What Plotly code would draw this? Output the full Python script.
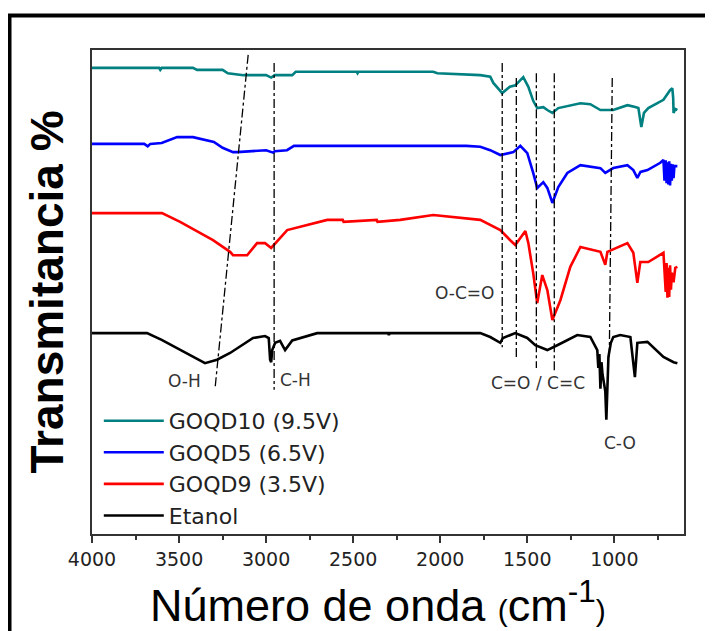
import plotly.graph_objects as go

# ---------------- data ----------------
series_names = ["GOQD10 (9.5V)", "GOQD5 (6.5V)", "GOQD9 (3.5V)", "Etanol"]
series_colors = ["#008080", "#0000FF", "#FF0000", "#000000"]

wn_goqd10 = [4000, 3700, 3615, 3608, 3600, 3420, 3397, 3250, 3220, 3130, 3000, 2971, 2950, 2850, 2830,
             2480, 2475, 2470, 2040, 2017, 1770, 1713, 1695, 1644, 1600, 1569, 1523, 1494, 1466, 1443,
             1408, 1385, 1356, 1322, 1270, 1195, 1138, 1080, 1006, 925, 880, 862, 845, 830, 805, 776,
             718, 680, 667, 662, 660, 650, 638]
t_goqd10 = [96.3, 96.3, 96.3, 95.9, 96.3, 96.3, 95.9, 95.9, 95.2, 94.8, 94.8, 94.3, 94.8, 94.8, 95.5,
            95.5, 95.2, 95.5, 95.5, 95.2, 94.8, 94.5, 93.2, 91.1, 92.4, 92.7, 94.4, 92.4, 89.5, 88.0,
            88.2, 87.6, 87.0, 88.0, 88.4, 89.0, 88.8, 87.6, 87.6, 88.6, 88.2, 88.0, 84.1, 87.0, 88.0, 88.6,
            89.7, 91.7, 92.1, 90.0, 87.0, 87.8, 87.6]

wn_goqd5 = [4000, 3700, 3680, 3665, 3600, 3511, 3420, 3300, 3250, 3190, 3167, 3000, 2960, 2950, 2880,
            2840, 2500, 1850, 1770, 1713, 1655, 1580, 1540, 1500, 1466, 1443, 1408, 1385, 1356, 1322,
            1270, 1195, 1080, 1052, 1006, 925, 891, 868, 850, 810, 736, 718, 712, 705, 700, 695, 690,
            685, 680, 675, 670, 665, 660, 655, 638]
t_goqd5 = [80.6, 80.6, 80.1, 80.6, 80.8, 82.0, 82.0, 81.0, 79.8, 78.9, 78.9, 79.3, 78.8, 79.1, 79.3,
           80.2, 80.2, 80.2, 80.0, 79.3, 78.3, 78.9, 80.2, 78.7, 74.6, 71.5, 72.7, 71.5, 68.4, 71.7,
           74.6, 76.2, 75.6, 74.6, 75.6, 76.2, 75.2, 73.6, 74.8, 75.2, 76.7, 77.3, 73.0, 77.2, 72.5, 76.8, 72.2,
           77.0, 72.0, 76.5, 73.0, 76.4, 73.5, 76.0, 76.0]

wn_goqd9 = [4000, 3598, 3494, 3305, 3207, 3190, 3109, 3052, 3006, 2971, 2879, 2649, 2560, 2555, 2365,
            2360, 2230, 2040, 1770, 1655, 1598, 1569, 1511, 1494, 1466, 1443, 1414, 1385, 1356, 1310,
            1253, 1195, 1080, 1052, 1040, 925, 891, 868, 851, 805, 718, 705, 700, 695, 690, 685, 680,
            675, 670, 660, 650, 638]
t_goqd9 = [66.3, 66.3, 64.5, 60.7, 58.3, 57.6, 57.6, 60.1, 60.1, 59.1, 62.8, 64.9, 64.9, 64.5, 64.9,
           64.5, 64.9, 65.9, 64.9, 62.8, 60.7, 59.7, 62.6, 60.1, 53.9, 47.7, 53.5, 50.4, 44.2, 48.3,
           55.2, 59.3, 58.3, 55.6, 58.3, 60.1, 58.1, 51.9, 56.2, 56.2, 58.1, 50.0, 56.0, 48.8, 55.0, 49.0, 55.5,
           50.5, 54.0, 52.0, 55.0, 55.2]

wn_etanol = [4000, 3684, 3600, 3494, 3351, 3282, 3207, 3075, 3006, 2985, 2977, 2971, 2965, 2948, 2920,
             2891, 2850, 2707, 2300, 2295, 2290, 1770, 1713, 1655, 1640, 1569, 1500, 1454, 1385, 1328,
             1270, 1213, 1138, 1098, 1092, 1086, 1080, 1074, 1068, 1060, 1052, 1046, 1040, 1034, 1020,
             1006, 966, 908, 882, 878, 868, 810, 718, 660, 638]
t_etanol = [41.5, 41.5, 40.1, 38.0, 35.3, 36.0, 37.4, 40.5, 40.9, 40.5, 36.0, 35.5, 38.0, 39.5, 39.9,
            38.0, 40.0, 41.5, 41.5, 41.1, 41.5, 41.5, 40.7, 39.5, 40.5, 41.5, 40.5, 39.0, 38.0, 39.0,
            40.1, 41.1, 40.7, 38.0, 34.3, 37.2, 30.0, 35.5, 33.0, 31.4, 29.5, 23.6, 29.5, 36.6, 39.5,
            40.7, 41.1, 40.7, 32.4, 34.0, 39.5, 39.7, 36.6, 35.5, 35.3]

# band marker lines (wavenumber at top / bottom, level at top / bottom)
band_wn_top = [3103, 2954, 1644, 1563, 1448, 1345, 1012]
band_wn_bot = [3293, 2954, 1644, 1563, 1448, 1345, 1029]
band_t_top = [99.0, 97.3, 97.3, 94.2, 95.2, 95.2, 94.2]
band_t_bot = [30.2, 29.8, 38.6, 36.4, 34.3, 33.5, 36.6]

band_labels = ["O-H", "C-H", "O-C=O", "C=O / C=C", "C-O"]
label_wn = [3466, 2833, 1862, 1437, 966]
label_t = [31.6, 31.8, 49.8, 31.2, 18.8]

tick_vals = [4000, 3500, 3000, 2500, 2000, 1500, 1000]
tick_text = ["4000", "3500", "3000", "2500", "2000", "1500", "1000"]
minor_vals = [3750, 3250, 2750, 2250, 1750, 1250, 750]

x_title = "Número de onda <span style='font-size:30px'>(</span>cm<sup>-1</sup><span style='font-size:30px'>)</span>"
y_title = "<b>Transmitancia %</b>"

# ---------------- figure ----------------
fig = go.Figure()
xs = [wn_goqd10, wn_goqd5, wn_goqd9, wn_etanol]
ys = [t_goqd10, t_goqd5, t_goqd9, t_etanol]
for i in range(4):
    fig.add_trace(go.Scatter(x=xs[i], y=ys[i], mode="lines", name=series_names[i],
                             line=dict(color=series_colors[i], width=2.6)))

for i in range(len(band_wn_top)):
    fig.add_shape(type="line", xref="x", yref="y",
                  x0=band_wn_top[i], y0=band_t_top[i], x1=band_wn_bot[i], y1=band_t_bot[i],
                  line=dict(color="black", width=1.3, dash="dashdot"))

for i in range(len(band_labels)):
    fig.add_annotation(x=label_wn[i], y=label_t[i], xref="x", yref="y", text=band_labels[i],
                       showarrow=False, font=dict(family="DejaVu Sans", size=17, color="#333333"))

# page is offset by the 8px body margin of the html page
OFF = 8
W, H = 705, 623
ml, mt = 92 - OFF, 50 - OFF
pw, ph = 592, 484
mr, mb = W - ml - pw, H - mt - ph
def px_to_paper_x(px):   # px in window coordinates
    return (px - OFF - ml) / pw
def px_to_paper_y(py):
    return (mt + ph - (py - OFF)) / ph

# outer black frame (partly outside the page)
fig.add_shape(type="rect", xref="paper", yref="paper",
              x0=px_to_paper_x(9.5), y0=px_to_paper_y(15.5),
              x1=px_to_paper_x(760), y1=px_to_paper_y(680),
              line=dict(color="black", width=4), layer="below")

# x axis title, placed slightly left of centre as in the original
fig.add_annotation(x=px_to_paper_x(378), y=px_to_paper_y(602), xref="paper", yref="paper",
                   text=x_title, showarrow=False, xanchor="center", yanchor="middle",
                   font=dict(family="Liberation Sans, Arial", size=45, color="black"))

fig.update_layout(
    width=W, height=H,
    margin=dict(l=ml, r=mr, t=mt, b=mb, autoexpand=False),
    paper_bgcolor="white", plot_bgcolor="white",
    showlegend=True,
    legend=dict(x=0.0115, y=-0.006, xanchor="left", yanchor="bottom",
                bgcolor="rgba(0,0,0,0)", font=dict(family="DejaVu Sans", size=22, color="#222222"),
                traceorder="normal", itemwidth=60),
    xaxis=dict(range=[4000, 600], tickmode="array", tickvals=tick_vals, ticktext=tick_text,
               automargin=False,
               ticks="outside", ticklen=7, tickwidth=1.6, tickcolor="#333333",
               minor=dict(tickmode="array", tickvals=minor_vals, ticks="outside", ticklen=4,
                          tickwidth=1.6, tickcolor="#333333"),
               showline=True, linecolor="#333333", linewidth=2, mirror=True,
               showgrid=False, zeroline=False,
               tickfont=dict(family="DejaVu Sans", size=19, color="#222222")),
    yaxis=dict(range=[0, 100], showticklabels=False, ticks="", showgrid=False, zeroline=False,
               automargin=False,
               showline=True, linecolor="#333333", linewidth=2, mirror=True,
               title=dict(text=y_title,
                          font=dict(family="Liberation Sans, Arial", size=46, color="black"),
                          standoff=12)),
)

fig.write_html("out.html")
